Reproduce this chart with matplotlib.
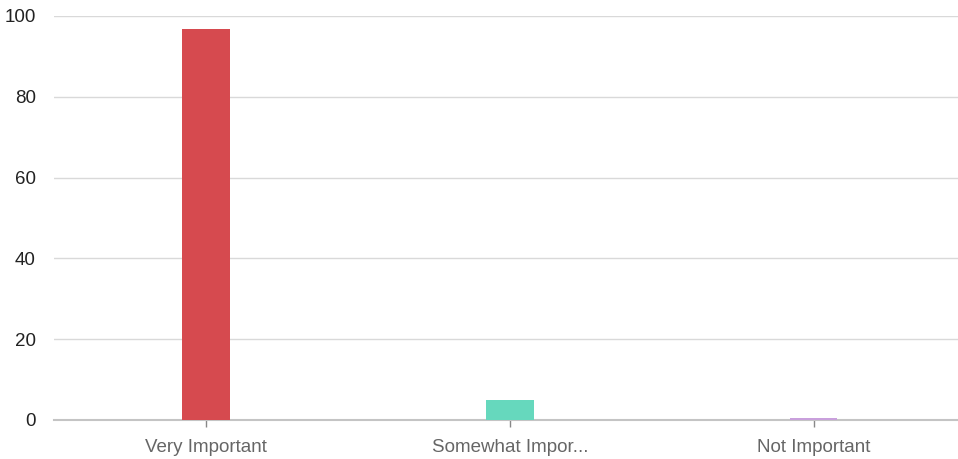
import matplotlib
matplotlib.use('Agg')
import matplotlib.pyplot as plt
import numpy as np

plt.rcParams['font.family'] = ['Liberation Sans Narrow', 'Liberation Sans', 'DejaVu Sans']

# ── Data ──
categories = ['Very Important', 'Somewhat Impor...', 'Not Important']
values = [96.8, 5.0, 0.4]
colors = ['#d64a4f', '#66d8bd', '#c9a0dc']
y_ticks = [0, 20, 40, 60, 80, 100]

fig = plt.figure(figsize=(9.58, 4.59), dpi=100)
ax = fig.add_axes([54 / 958, 39 / 459, 904 / 958, 404 / 459])

x = np.arange(len(categories))
ax.bar(x, values, width=0.155, color=colors, zorder=3)

ax.set_xlim(-0.5, 2.474)
ax.set_ylim(0, 100)
ax.set_yticks(y_ticks)
ax.set_xticks(x)
ax.set_xticklabels(categories, color='#666666', fontsize=13.5)
ax.tick_params(axis='y', length=0, labelsize=13.5, pad=13, labelcolor='#222222')
ax.tick_params(axis='x', length=5, width=1, color='#888888', pad=9)

ax.grid(True, axis='y', color='#d9d9d9', linewidth=1, zorder=0)
for s in ['top', 'right', 'left']:
    ax.spines[s].set_visible(False)
ax.spines['bottom'].set_color('#c4c4c4')
ax.spines['bottom'].set_linewidth(1.5)
ax.spines['bottom'].set_zorder(2)

fig.savefig('out.png', dpi=100)
